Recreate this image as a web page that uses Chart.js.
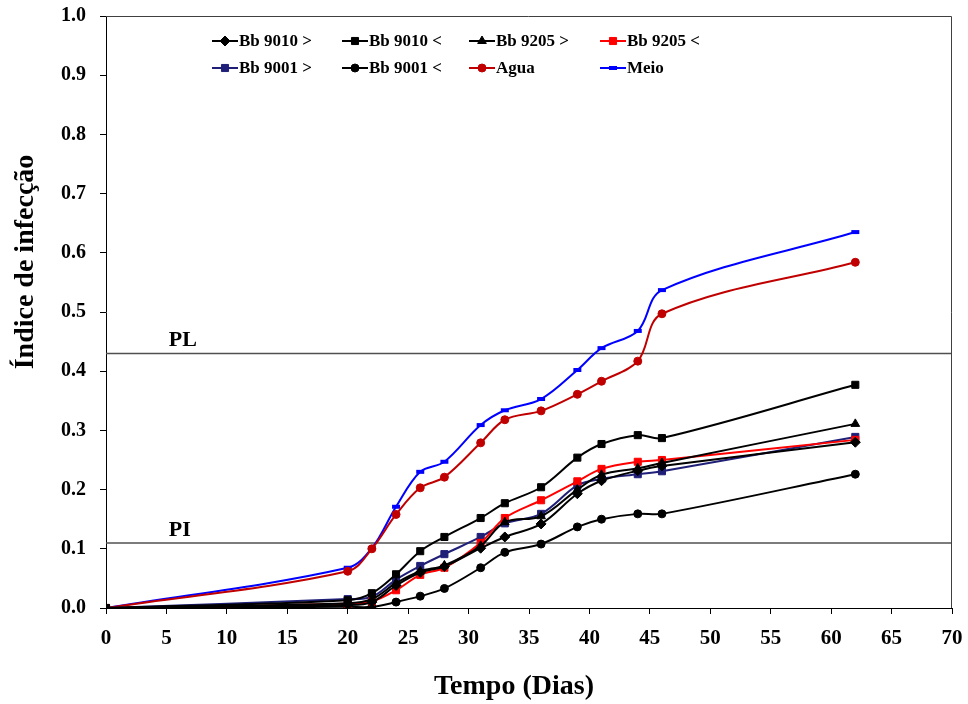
<!DOCTYPE html>
<html>
<head>
<meta charset="utf-8">
<script src="https://cdn.jsdelivr.net/npm/chart.js@4.4.0/dist/chart.umd.min.js"></script>
<style>
    html, body { margin: 0; padding: 0; background: #fff; }
    #wrap { width: 968px; height: 704px; }
</style>
</head>
<body>
<div id="wrap"><canvas id="infeccaoChart" width="968" height="704"></canvas></div>
<script>
// Days of evaluation
const dias = [0, 20, 22, 24, 26, 28, 31, 33, 36, 39, 41, 44, 46, 62];

// Infection index per treatment
const bb9010Maior = [0, 0.005, 0.010, 0.038, 0.060, 0.070, 0.101, 0.120, 0.142, 0.193, 0.215, 0.232, 0.240, 0.280];
const bb9010Menor = [0, 0.013, 0.025, 0.057, 0.096, 0.120, 0.152, 0.177, 0.204, 0.254, 0.277, 0.292, 0.287, 0.377];
const bb9205Maior = [0, 0.008, 0.015, 0.042, 0.062, 0.072, 0.105, 0.145, 0.155, 0.200, 0.225, 0.236, 0.245, 0.311];
const bb9205Menor = [0, 0.007, 0.011, 0.030, 0.056, 0.068, 0.110, 0.152, 0.182, 0.214, 0.235, 0.247, 0.250, 0.284];
const bb9001Maior = [0, 0.015, 0.019, 0.048, 0.071, 0.091, 0.120, 0.143, 0.159, 0.207, 0.218, 0.226, 0.231, 0.289];
const bb9001Menor = [0, 0.002, 0.002, 0.010, 0.020, 0.033, 0.068, 0.094, 0.108, 0.137, 0.150, 0.159, 0.159, 0.226];
const agua        = [0, 0.062, 0.100, 0.158, 0.203, 0.221, 0.279, 0.318, 0.333, 0.361, 0.383, 0.417, 0.497, 0.584];
const meio        = [0, 0.068, 0.101, 0.171, 0.230, 0.247, 0.309, 0.334, 0.353, 0.402, 0.439, 0.468, 0.537, 0.635];

// Reference levels
const limites = [
    { nome: 'PL', valor: 0.43 },
    { nome: 'PI', valor: 0.11 },
];

const serif = '"Liberation Serif", "Times New Roman", serif';

function serie(label, values, color, pointStyle, radius, extra) {
    return Object.assign({
        label: label,
        data: dias.map((d, i) => ({ x: d, y: values[i] })),
        borderColor: color,
        backgroundColor: color,
        pointBackgroundColor: color,
        pointBorderColor: color,
        pointStyle: pointStyle,
        pointRadius: radius,
        pointBorderWidth: 1,
        borderWidth: 2,
        tension: 0.35,
    }, extra || {});
}

const datasets = [
    serie('Bb 9010 >', bb9010Maior, '#000000', 'rectRot', 5),
    serie('Bb 9010 <', bb9010Menor, '#000000', 'rect', 5),
    serie('Bb 9205 >', bb9205Maior, '#000000', 'triangle', 5),
    serie('Bb 9205 <', bb9205Menor, '#ff0000', 'rect', 5),
    serie('Bb 9001 >', bb9001Maior, '#1f1f78', 'rect', 5),
    serie('Bb 9001 <', bb9001Menor, '#000000', 'circle', 4),
    serie('Agua', agua, '#c00000', 'circle', 4),
    serie('Meio', meio, '#0000ff', 'line', 4, { pointBorderWidth: 4 }),
];

// PL / PI horizontal lines
limites.forEach(l => {
    datasets.push({
        label: l.nome,
        data: [{ x: 0, y: l.valor }, { x: 70, y: l.valor }],
        borderColor: '#505050',
        borderWidth: 1.5,
        pointRadius: 0,
        tension: 0,
        isLimit: true,
    });
});

// Legend drawn inside the plot, 4 columns x 2 rows
const legendCols = [212, 342, 469, 600];
const legendRows = [41, 68];

const framePlugin = {
    id: 'frameAndText',
    afterDraw(chart) {
        const ctx = chart.ctx;
        const area = chart.chartArea;
        const xs = chart.scales.x;
        const ys = chart.scales.y;
        ctx.save();

        // top and right frame
        ctx.strokeStyle = '#404040';
        ctx.lineWidth = 1;
        ctx.beginPath();
        ctx.moveTo(area.left, area.top + 0.5);
        ctx.lineTo(area.right - 0.5, area.top + 0.5);
        ctx.lineTo(area.right - 0.5, area.bottom);
        ctx.stroke();

        // PL / PI labels
        ctx.fillStyle = '#000';
        ctx.font = 'bold 22px ' + serif;
        ctx.textAlign = 'left';
        ctx.textBaseline = 'bottom';
        limites.forEach(l => {
            ctx.fillText(l.nome, xs.getPixelForValue(5.2), ys.getPixelForValue(l.valor) - 2);
        });

        // legend
        chart.data.datasets.forEach((ds, i) => {
            if (ds.isLimit) return;
            const x0 = legendCols[i % 4];
            const y = legendRows[Math.floor(i / 4)];
            ctx.strokeStyle = ds.borderColor;
            ctx.lineWidth = 2;
            ctx.beginPath();
            ctx.moveTo(x0, y);
            ctx.lineTo(x0 + 26, y);
            ctx.stroke();
            ctx.fillStyle = ds.pointBackgroundColor;
            ctx.strokeStyle = ds.pointBorderColor;
            ctx.lineWidth = ds.pointBorderWidth;
            Chart.helpers.drawPoint(ctx, {
                pointStyle: ds.pointStyle,
                radius: ds.pointRadius,
                rotation: 0,
                borderWidth: ds.pointBorderWidth,
            }, x0 + 13, y);
            ctx.fillStyle = '#000';
            ctx.font = 'bold 17px ' + serif;
            ctx.textAlign = 'left';
            ctx.textBaseline = 'middle';
            ctx.fillText(ds.label, x0 + 27, y + 1);
        });

        // axis titles
        ctx.font = 'bold 28px ' + serif;
        ctx.textAlign = 'center';
        ctx.textBaseline = 'middle';
        ctx.fillText('Tempo (Dias)', 514, 687);
        ctx.translate(26, 262);
        ctx.rotate(-Math.PI / 2);
        ctx.fillText('Índice de infecção', 0, 0);
        ctx.restore();
    }
};

const ctx = document.getElementById('infeccaoChart').getContext('2d');
new Chart(ctx, {
    type: 'line',
    data: { datasets: datasets },
    options: {
        responsive: false,
        animation: false,
        layout: { padding: { left: 0, top: 16, right: 16, bottom: 0 } },
        plugins: {
            legend: { display: false },
            tooltip: { enabled: false },
        },
        scales: {
            x: {
                type: 'linear',
                min: 0,
                max: 70,
                ticks: {
                    stepSize: 5,
                    color: '#000',
                    font: { family: serif, size: 21, weight: 'bold' },
                    padding: 12,
                },
                grid: { drawOnChartArea: false, tickLength: 6, color: '#000' },
                border: { display: true, color: '#000', width: 1 },
                afterFit(scale) {
                    scale.height = 96;
                    scale.paddingLeft = 0;
                    scale.paddingRight = 0;
                },
            },
            y: {
                min: 0,
                max: 1,
                ticks: {
                    stepSize: 0.1,
                    color: '#000',
                    font: { family: serif, size: 20, weight: 'bold' },
                    padding: 14,
                    callback: v => v.toFixed(1),
                },
                grid: { drawOnChartArea: false, tickLength: 6, color: '#000' },
                border: { display: true, color: '#000', width: 1 },
                afterFit(scale) {
                    scale.width = 106;
                    scale.paddingTop = 0;
                    scale.paddingBottom = 0;
                },
            },
        },
    },
    plugins: [framePlugin],
});
</script>
</body>
</html>
